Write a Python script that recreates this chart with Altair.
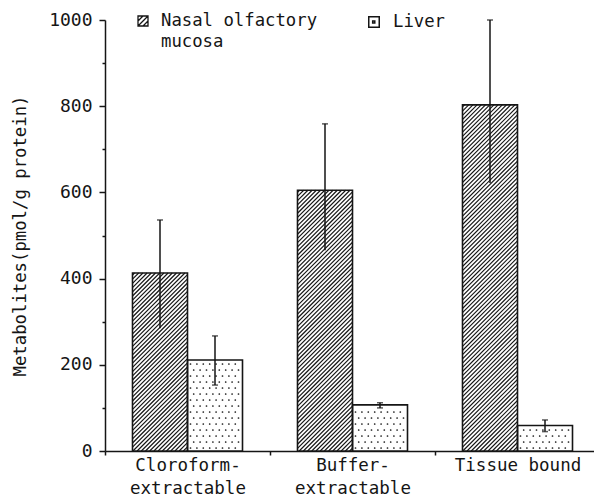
import json
import altair as alt
import numpy as np
import pandas as pd

# ---------------- data ----------------
categories = ["Cloroform-\nextractable", "Buffer-\nextractable", "Tissue bound"]
series = ["Nasal olfactory\nmucosa", "Liver"]
nasal_mean = [413, 605, 803]
nasal_low = [285, 466, 622]
nasal_high = [536, 759, 1000]
liver_mean = [211, 107, 59]
liver_low = [153, 100, 45]
liver_high = [267, 112, 72]
y_ticks = [0, 100, 200, 300, 400, 500, 600, 700, 800, 900, 1000]
y_title = "Metabolites(pmol/g protein)"

# ---------------- geometry helpers ----------------
BAND = 165.0            # pixels per category band
W, H = 489, 431         # plot area (the right end of the x axis is cut by the page)
YMAX = 1000
NCAT = len(categories)
XMAX = W / BAND
PX_X = BAND
PX_Y = H / YMAX
FONT = "DejaVu Sans Mono"
INK = "#151515"

rows = []
for i, cat in enumerate(categories):
    stats = [(nasal_mean[i], nasal_low[i], nasal_high[i]),
             (liver_mean[i], liver_low[i], liver_high[i])]
    for s, (m, lo, hi) in enumerate(stats):
        left = i + 1 / 6 + s / 3
        rows.append(dict(cat=cat, s=s, left=left, right=left + 1 / 3,
                         mid=left + 1 / 6, value=m, lo=lo, hi=hi))
bars = pd.DataFrame(rows)

# diagonal hatching for the nasal bars
hatch = []
for r in bars[bars.s == 0].itertuples():
    wb = (r.right - r.left) * PX_X
    hb = r.value * PX_Y
    for c in np.arange(-hb + 2.0, wb, 4.2):
        x0 = max(c, 0.0)
        x1 = min(wb, hb + c)
        if x1 <= x0:
            continue
        hatch.append(dict(left=r.left + x0 / PX_X, value=(x0 - c) / PX_Y,
                          x1=r.left + x1 / PX_X, y1=(x1 - c) / PX_Y))
hatch = pd.DataFrame(hatch)

# stippling for the liver bars
dots = []
for r in bars[bars.s == 1].itertuples():
    wb = (r.right - r.left) * PX_X
    hb = r.value * PX_Y
    j = 0
    yp = 3.0
    while yp < hb - 2:
        xp = 3.0 + (j % 2) * 3.2
        while xp < wb - 2:
            dots.append(dict(left=r.left + xp / PX_X, value=yp / PX_Y))
            xp += 6.4
        yp += 6.0
        j += 1
dots = pd.DataFrame(dots)

caps = []
for r in bars.itertuples():
    caps.append(dict(left=r.mid, value=r.hi))
    if r.s == 1:
        caps.append(dict(left=r.mid, value=r.lo))
caps = pd.DataFrame(caps)

# ---------------- scales & axes ----------------
xscale = alt.Scale(domain=[0, XMAX], nice=False, zero=False)
yscale = alt.Scale(domain=[0, YMAX], nice=False)

half_vals = [i + 0.5 for i in range(NCAT)]
x_vals = [v for v in sorted(list(range(NCAT + 1)) + half_vals) if v <= XMAX]
label_expr = " : ".join(
    f"datum.value == {v} ? {json.dumps(c.split(chr(10)))}" for v, c in zip(half_vals, categories)
) + " : ''"

xaxis = alt.Axis(
    values=x_vals, title=None, labelExpr=label_expr, labelOverlap=False,
    labelFlush=False, labelAngle=0, labelPadding=5, labelLineHeight=23,
    labelFont=FONT, labelFontSize=17.5, labelColor=INK,
    tickSize={"condition": {"test": "datum.value % 1 == 0", "value": 4}, "value": 0},
    tickColor=INK, tickWidth=1.5, domainColor=INK, domainWidth=1.5, grid=False,
)
yaxis = alt.Axis(
    values=y_ticks, title=y_title, format="d",
    labelExpr="datum.value % 200 == 0 ? datum.label : ''",
    labelFont=FONT, labelFontSize=18, labelColor=INK, labelPadding=7,
    titleFont=FONT, titleFontSize=17.3, titleFontWeight="normal", titleColor=INK,
    titlePadding=19,
    tickSize={"condition": {"test": "datum.value % 200 == 0", "value": 6}, "value": 3},
    tickColor=INK, tickWidth=1.5, domainColor=INK, domainWidth=1.5, grid=False,
)

X = alt.X("left:Q", scale=xscale, axis=xaxis)
Y = alt.Y("value:Q", scale=yscale, axis=yaxis)

base = alt.Chart(bars)

bar_fill = base.mark_rect(fill="white", strokeWidth=0).encode(
    x=X, x2="right:Q", y=Y, y2=alt.datum(0),
)

hatch_layer = alt.Chart(hatch).mark_rule(color=INK, strokeWidth=1.15).encode(
    x=X, y=Y, x2="x1:Q", y2="y1:Q",
)

dot_layer = alt.Chart(dots).mark_circle(color=INK, size=3, opacity=1).encode(
    x=X, y=Y,
)

bar_outline = base.mark_rect(fill=None, stroke=INK, strokeWidth=1.6).encode(
    x=X, x2="right:Q", y=Y, y2=alt.datum(0),
)

err = base.mark_rule(color=INK, strokeWidth=1.5).encode(
    x=alt.X("mid:Q", scale=xscale, axis=xaxis),
    y=alt.Y("lo:Q", scale=yscale, axis=yaxis),
    y2="hi:Q",
)

cap_layer = alt.Chart(caps).mark_tick(orient="horizontal", color=INK, size=6,
                                      thickness=1.5).encode(
    x=X, y=Y,
)

# ---------------- legend (drawn by hand) ----------------
hatch_path = "M-1,-1H1V1H-1Z M-1,0L0,-1 M-1,1L1,-1 M0,1L1,0"
dot_path = "M-1,-1H1V1H-1Z M-0.25,-0.2H0.15V0.2H-0.25Z"
one = pd.DataFrame({"k": [0]})

leg_sym1 = alt.Chart(one).mark_point(shape=hatch_path, size=100, filled=False,
                                     stroke=INK, strokeWidth=1.3, opacity=1).encode(
    x=alt.value(38), y=alt.value(1))
leg_sym2 = alt.Chart(one).mark_point(shape=dot_path, size=110, filled=False,
                                     stroke=INK, strokeWidth=1.5, opacity=1).encode(
    x=alt.value(269), y=alt.value(2))
leg_txt1 = alt.Chart(one).mark_text(text=series[0].split("\n"), align="left", baseline="middle",
                                    font=FONT, fontSize=17.3, color=INK, lineHeight=21).encode(
    x=alt.value(56), y=alt.value(1))
leg_txt2 = alt.Chart(one).mark_text(text=series[1], align="left", baseline="middle",
                                    font=FONT, fontSize=17.3, color=INK).encode(
    x=alt.value(288), y=alt.value(2))

chart = alt.layer(
    bar_fill, hatch_layer, dot_layer, bar_outline, err, cap_layer,
    leg_sym1, leg_sym2, leg_txt1, leg_txt2,
).properties(
    width=W, height=H,
    autosize=alt.AutoSizeParams(type="none"),
    padding={"left": 97, "top": 12, "right": 0, "bottom": 48},
    background="white",
).configure_view(stroke=None)

chart.save("out.html", embed_options={"renderer": "svg", "actions": False})
